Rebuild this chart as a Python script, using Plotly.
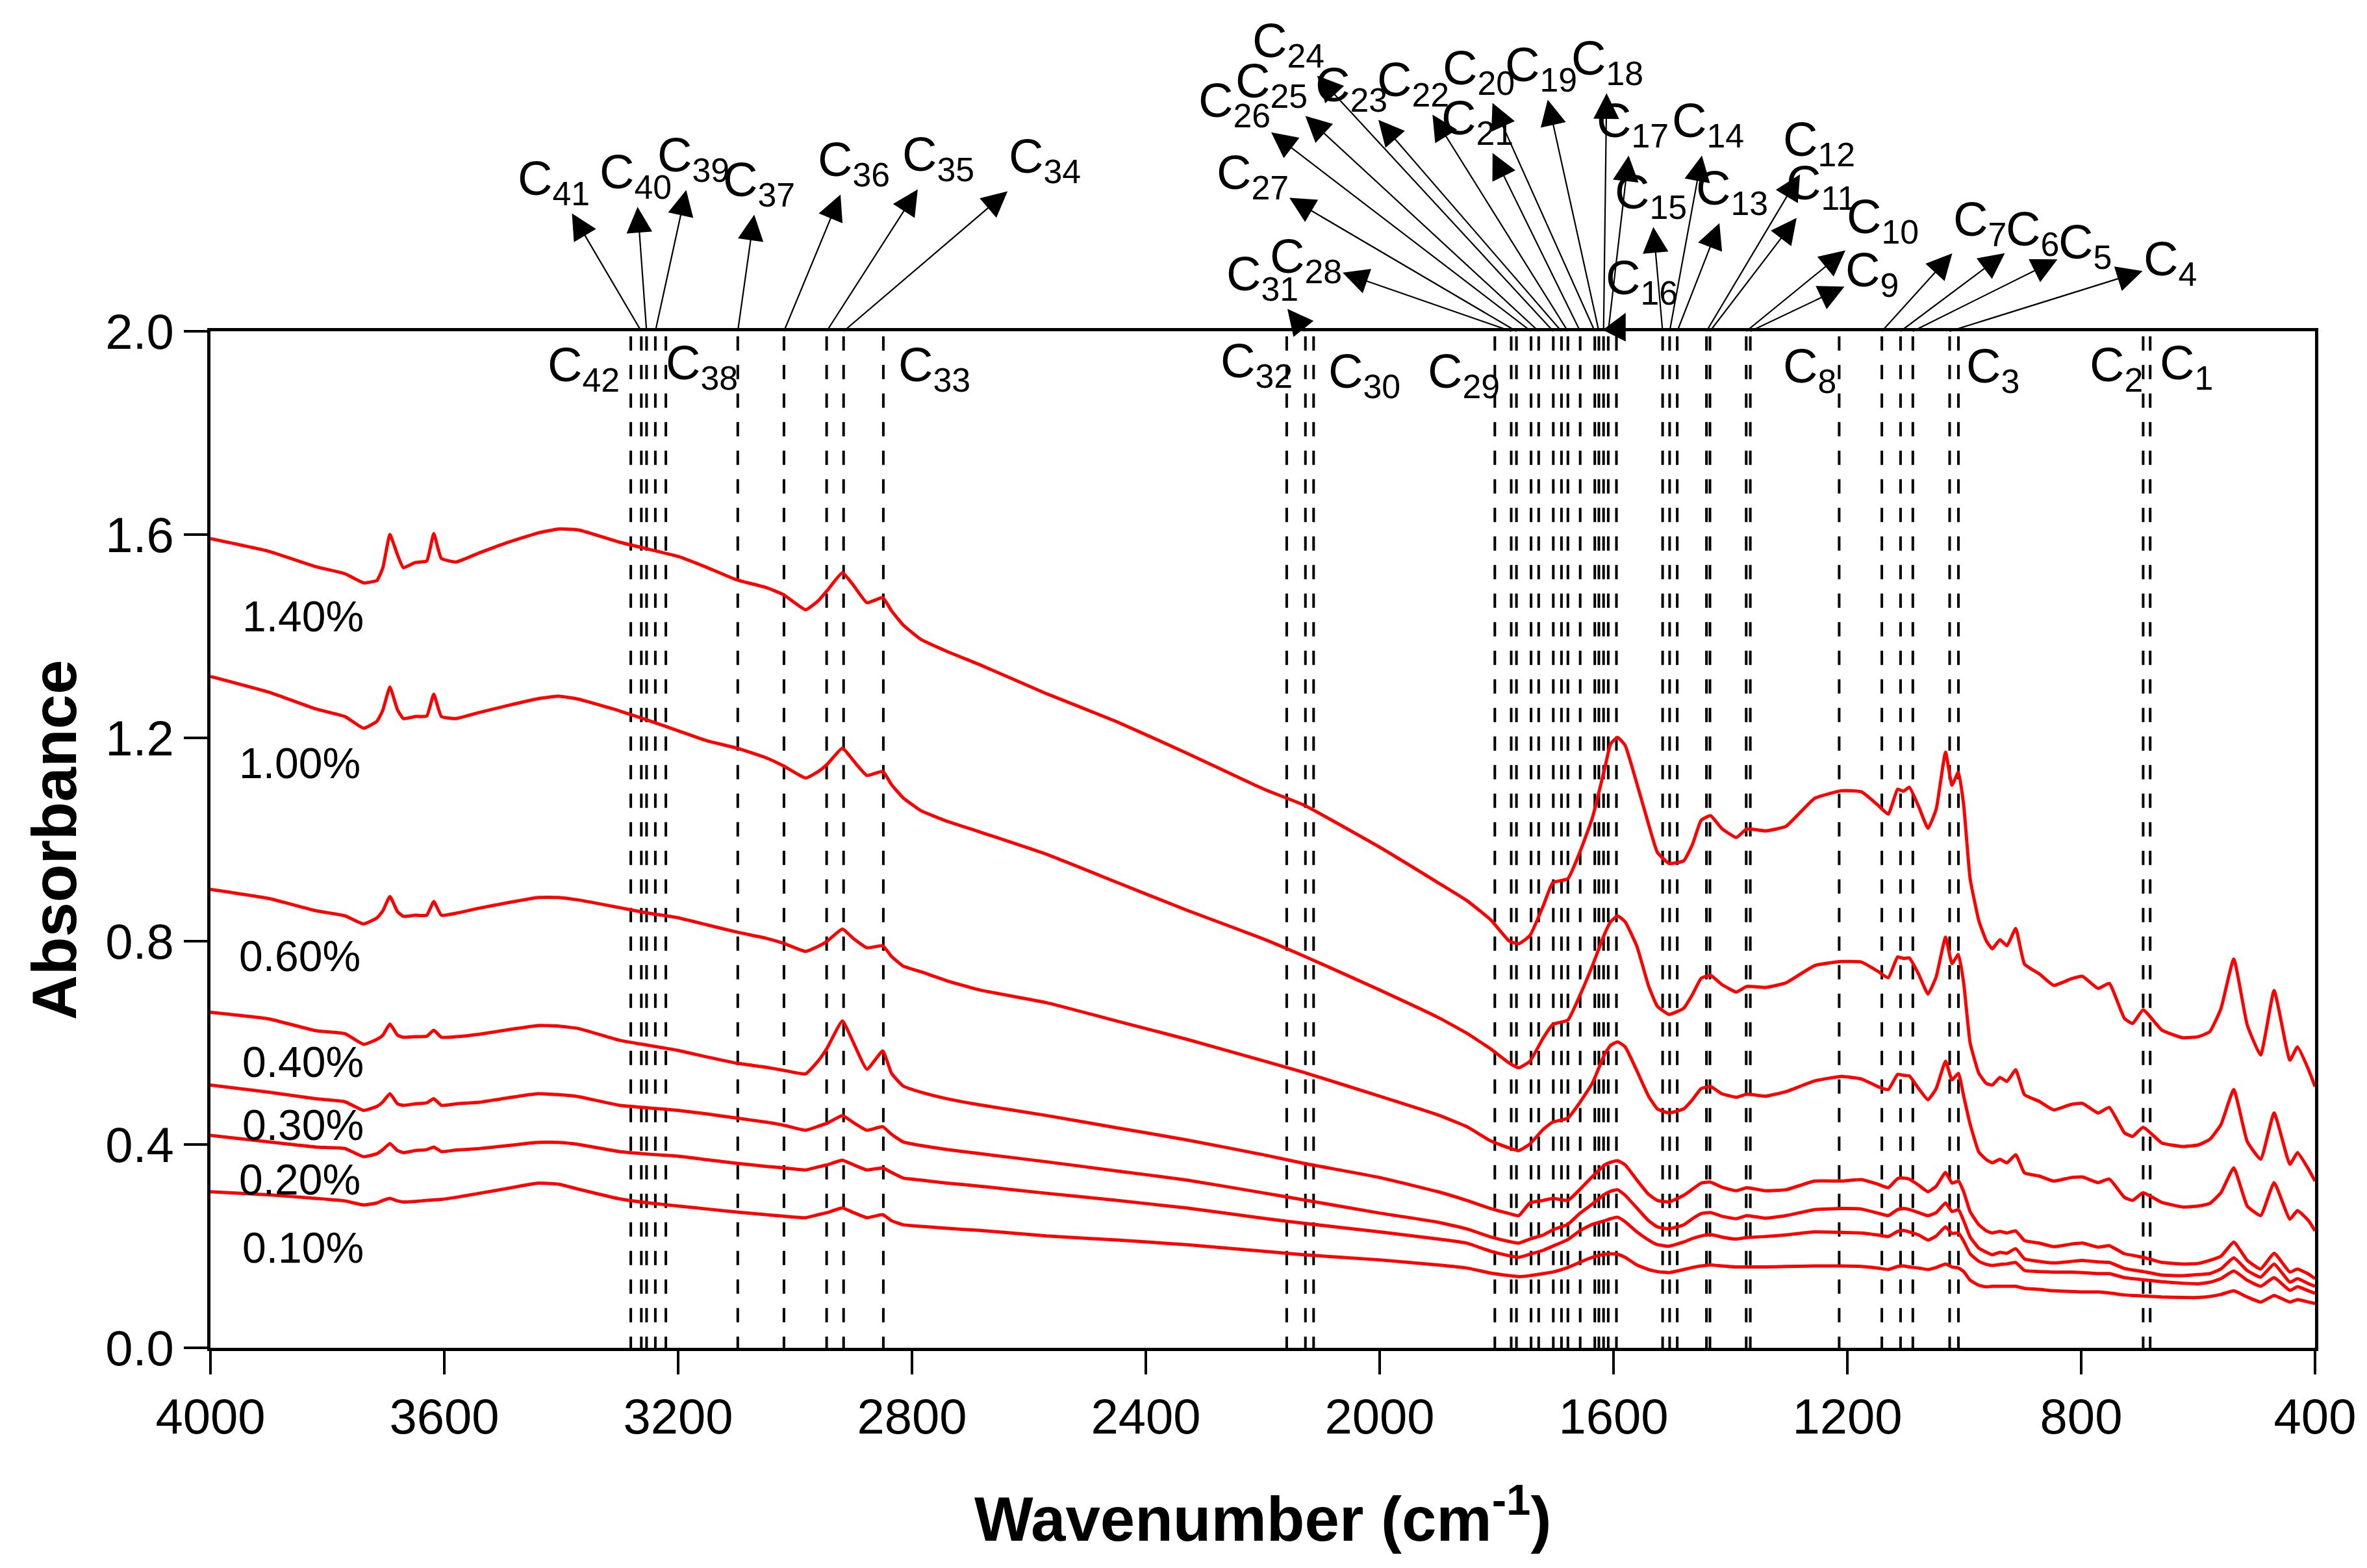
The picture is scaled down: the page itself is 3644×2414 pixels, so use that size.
import plotly.graph_objects as go

# ---------------- data ----------------
wavenumber = [4000, 3900, 3820, 3770, 3738, 3715, 3705, 3693, 3680, 3670, 3650, 3630, 3618, 3605, 3580,
              3540, 3490, 3440, 3405, 3370, 3300, 3250, 3200, 3150, 3100, 3050, 3020, 2982, 2960, 2945,
              2919, 2900, 2877, 2850, 2835, 2815, 2785, 2740, 2684, 2570, 2450, 2330, 2200, 2130, 2000,
              1900, 1851, 1810, 1778, 1762, 1743, 1720, 1704, 1678, 1658, 1636, 1615, 1605, 1593, 1580,
              1560, 1540, 1525, 1505, 1480, 1465, 1450, 1434, 1415, 1390, 1372, 1340, 1305, 1256, 1210,
              1176, 1148, 1130, 1114, 1104, 1094, 1078, 1062, 1048, 1032, 1021, 1010, 1001, 990, 975,
              962, 952, 939, 927, 912, 897, 872, 847, 817, 798, 771, 752, 726, 712, 694,
              662, 626, 600, 580, 561, 539, 516, 493, 470, 443, 430, 411, 400]

abs_140 = [1.592, 1.567, 1.537, 1.523, 1.505, 1.510, 1.535, 1.600, 1.560, 1.535, 1.545, 1.548, 1.602, 1.553, 1.546,
           1.564, 1.585, 1.603, 1.611, 1.609, 1.585, 1.571, 1.557, 1.535, 1.511, 1.496, 1.482, 1.452, 1.470, 1.490,
           1.525, 1.500, 1.466, 1.476, 1.450, 1.422, 1.394, 1.370, 1.344, 1.287, 1.232, 1.170, 1.100, 1.068, 0.985,
           0.915, 0.880, 0.842, 0.800, 0.795, 0.811, 0.870, 0.915, 0.923, 0.974, 1.043, 1.140, 1.188, 1.201, 1.185,
           1.110, 1.030, 0.975, 0.953, 0.958, 0.990, 1.038, 1.047, 1.022, 1.004, 1.021, 1.017, 1.026, 1.081, 1.096,
           1.094, 1.068, 1.050, 1.099, 1.095, 1.103, 1.065, 1.022, 1.060, 1.172, 1.107, 1.133, 1.068, 0.923, 0.840,
           0.800, 0.785, 0.803, 0.791, 0.825, 0.755, 0.736, 0.713, 0.726, 0.731, 0.707, 0.717, 0.648, 0.638, 0.665,
           0.625, 0.610, 0.612, 0.622, 0.667, 0.765, 0.635, 0.576, 0.703, 0.566, 0.592, 0.547, 0.514]

abs_100 = [1.321, 1.290, 1.257, 1.242, 1.219, 1.233, 1.255, 1.300, 1.255, 1.238, 1.242, 1.243, 1.286, 1.242, 1.238,
           1.250, 1.264, 1.277, 1.282, 1.276, 1.253, 1.234, 1.214, 1.194, 1.180, 1.161, 1.145, 1.121, 1.134, 1.148,
           1.180, 1.155, 1.126, 1.134, 1.108, 1.082, 1.057, 1.036, 1.015, 0.971, 0.916, 0.861, 0.805, 0.771, 0.704,
           0.650, 0.619, 0.588, 0.560, 0.551, 0.564, 0.610, 0.636, 0.645, 0.692, 0.752, 0.815, 0.838, 0.850, 0.838,
           0.790, 0.712, 0.672, 0.656, 0.668, 0.695, 0.727, 0.733, 0.715, 0.700, 0.711, 0.709, 0.718, 0.752, 0.760,
           0.759, 0.741, 0.728, 0.769, 0.766, 0.767, 0.735, 0.696, 0.730, 0.808, 0.756, 0.774, 0.718, 0.600, 0.540,
           0.520, 0.517, 0.532, 0.524, 0.547, 0.498, 0.485, 0.468, 0.479, 0.481, 0.462, 0.473, 0.423, 0.416, 0.434,
           0.403, 0.396, 0.399, 0.410, 0.439, 0.508, 0.406, 0.371, 0.462, 0.361, 0.384, 0.351, 0.328]

abs_060 = [0.902, 0.884, 0.860, 0.850, 0.834, 0.846, 0.860, 0.888, 0.858, 0.849, 0.851, 0.851, 0.878, 0.851, 0.855,
           0.865, 0.876, 0.886, 0.886, 0.881, 0.866, 0.855, 0.846, 0.832, 0.818, 0.806, 0.796, 0.780, 0.790, 0.800,
           0.824, 0.805, 0.787, 0.791, 0.770, 0.751, 0.740, 0.722, 0.704, 0.679, 0.643, 0.607, 0.565, 0.542, 0.495,
           0.458, 0.435, 0.407, 0.393, 0.388, 0.401, 0.430, 0.444, 0.452, 0.482, 0.521, 0.578, 0.595, 0.602, 0.592,
           0.545, 0.495, 0.470, 0.462, 0.470, 0.488, 0.510, 0.514, 0.500, 0.493, 0.499, 0.495, 0.504, 0.525, 0.534,
           0.529, 0.514, 0.508, 0.538, 0.536, 0.535, 0.510, 0.488, 0.510, 0.564, 0.527, 0.540, 0.495, 0.440, 0.385,
           0.370, 0.364, 0.371, 0.364, 0.380, 0.344, 0.338, 0.328, 0.335, 0.336, 0.325, 0.332, 0.296, 0.290, 0.305,
           0.286, 0.277, 0.279, 0.284, 0.305, 0.354, 0.279, 0.260, 0.325, 0.253, 0.270, 0.250, 0.230]

abs_040 = [0.660, 0.647, 0.624, 0.618, 0.597, 0.607, 0.615, 0.637, 0.615, 0.611, 0.612, 0.613, 0.625, 0.611, 0.612,
           0.617, 0.626, 0.634, 0.633, 0.628, 0.605, 0.595, 0.585, 0.572, 0.560, 0.552, 0.546, 0.539, 0.565, 0.590,
           0.643, 0.600, 0.548, 0.584, 0.540, 0.515, 0.503, 0.490, 0.478, 0.457, 0.433, 0.409, 0.380, 0.363, 0.335,
           0.307, 0.290, 0.274, 0.264, 0.260, 0.285, 0.290, 0.294, 0.290, 0.311, 0.337, 0.360, 0.365, 0.368, 0.360,
           0.330, 0.302, 0.290, 0.287, 0.300, 0.312, 0.324, 0.326, 0.316, 0.309, 0.315, 0.309, 0.311, 0.328, 0.328,
           0.331, 0.322, 0.315, 0.333, 0.334, 0.332, 0.320, 0.307, 0.318, 0.345, 0.324, 0.328, 0.307, 0.268, 0.242,
           0.230, 0.226, 0.229, 0.226, 0.230, 0.211, 0.206, 0.199, 0.204, 0.206, 0.198, 0.201, 0.185, 0.182, 0.178,
           0.168, 0.165, 0.166, 0.172, 0.180, 0.208, 0.172, 0.155, 0.186, 0.149, 0.155, 0.145, 0.136]

abs_030 = [0.517, 0.503, 0.490, 0.484, 0.467, 0.475, 0.484, 0.500, 0.480, 0.477, 0.480, 0.482, 0.490, 0.477, 0.480,
           0.483, 0.492, 0.500, 0.498, 0.494, 0.477, 0.472, 0.467, 0.460, 0.452, 0.444, 0.438, 0.428, 0.436, 0.442,
           0.457, 0.443, 0.428, 0.435, 0.420, 0.405, 0.398, 0.390, 0.382, 0.366, 0.348, 0.330, 0.305, 0.291, 0.265,
           0.247, 0.234, 0.218, 0.209, 0.206, 0.214, 0.222, 0.232, 0.243, 0.264, 0.283, 0.302, 0.308, 0.311, 0.300,
           0.275, 0.250, 0.238, 0.234, 0.242, 0.254, 0.264, 0.266, 0.259, 0.254, 0.260, 0.255, 0.260, 0.272, 0.274,
           0.273, 0.265, 0.260, 0.272, 0.274, 0.272, 0.266, 0.260, 0.266, 0.285, 0.268, 0.272, 0.250, 0.218, 0.196,
           0.188, 0.183, 0.188, 0.186, 0.195, 0.175, 0.170, 0.167, 0.170, 0.172, 0.169, 0.168, 0.156, 0.153, 0.150,
           0.143, 0.142, 0.144, 0.146, 0.155, 0.177, 0.152, 0.139, 0.165, 0.129, 0.136, 0.126, 0.121]

abs_020 = [0.418, 0.405, 0.395, 0.392, 0.376, 0.382, 0.390, 0.402, 0.388, 0.384, 0.388, 0.390, 0.395, 0.386, 0.389,
           0.392, 0.398, 0.404, 0.404, 0.400, 0.386, 0.381, 0.377, 0.370, 0.363, 0.357, 0.354, 0.350, 0.356, 0.360,
           0.369, 0.360, 0.350, 0.354, 0.345, 0.334, 0.330, 0.324, 0.318, 0.304, 0.290, 0.275, 0.255, 0.245, 0.228,
           0.214, 0.206, 0.190, 0.181, 0.178, 0.184, 0.192, 0.200, 0.213, 0.230, 0.243, 0.250, 0.254, 0.257, 0.248,
           0.228, 0.212, 0.203, 0.200, 0.208, 0.215, 0.220, 0.223, 0.218, 0.214, 0.217, 0.219, 0.222, 0.228, 0.227,
           0.226, 0.222, 0.219, 0.229, 0.231, 0.228, 0.222, 0.212, 0.220, 0.238, 0.225, 0.226, 0.210, 0.185, 0.170,
           0.164, 0.162, 0.164, 0.165, 0.168, 0.152, 0.150, 0.149, 0.149, 0.148, 0.146, 0.146, 0.138, 0.136, 0.134,
           0.130, 0.127, 0.126, 0.129, 0.136, 0.151, 0.133, 0.121, 0.138, 0.113, 0.120, 0.112, 0.107]

abs_010 = [0.307, 0.301, 0.294, 0.289, 0.281, 0.285, 0.290, 0.294, 0.289, 0.287, 0.288, 0.290, 0.291, 0.292, 0.296,
           0.304, 0.314, 0.324, 0.322, 0.312, 0.293, 0.285, 0.279, 0.273, 0.267, 0.262, 0.259, 0.256, 0.262, 0.266,
           0.275, 0.266, 0.256, 0.262, 0.250, 0.242, 0.239, 0.235, 0.231, 0.220, 0.212, 0.203, 0.190, 0.183, 0.173,
           0.163, 0.157, 0.147, 0.142, 0.140, 0.142, 0.146, 0.149, 0.158, 0.168, 0.178, 0.184, 0.185, 0.184, 0.178,
           0.163, 0.154, 0.150, 0.148, 0.154, 0.158, 0.161, 0.163, 0.161, 0.159, 0.159, 0.159, 0.160, 0.161, 0.161,
           0.160, 0.157, 0.154, 0.160, 0.161, 0.159, 0.157, 0.154, 0.158, 0.165, 0.159, 0.157, 0.150, 0.133, 0.123,
           0.120, 0.121, 0.121, 0.121, 0.121, 0.117, 0.115, 0.112, 0.111, 0.110, 0.110, 0.108, 0.104, 0.103, 0.102,
           0.100, 0.099, 0.099, 0.101, 0.105, 0.112, 0.100, 0.090, 0.103, 0.090, 0.095, 0.090, 0.087]

series_values = [abs_140, abs_100, abs_060, abs_040, abs_030, abs_020, abs_010]
series_labels = ["1.40%", "1.00%", "0.60%", "0.40%", "0.30%", "0.20%", "0.10%"]

# band positions C1 ... C42 (cm-1)
peak_wn = [682, 694, 1010, 1025, 1088, 1109, 1141, 1214, 1366, 1373,
           1435, 1441, 1491, 1504, 1516, 1595, 1609, 1617, 1625, 1632,
           1657, 1678, 1689, 1703, 1728, 1741, 1766, 1775, 1803, 2113,
           2127, 2159, 2849, 2917, 2946, 3019, 3098, 3221, 3239, 3254,
           3263, 3281]
peak_names = ["C<sub>%d</sub>" % (i + 1) for i in range(len(peak_wn))]

x_ticks = [4000, 3600, 3200, 2800, 2400, 2000, 1600, 1200, 800, 400]
y_ticks = [0.0, 0.4, 0.8, 1.2, 1.6, 2.0]

# ---------------- layout constants (pixels) ----------------
W, H = 3644, 2414
PL, PR, PT, PB = 316, 3556, 502, 2067
XMAX, XMIN = 4000, 400
FONT = "Liberation Sans, Arial, sans-serif"

# label centres in pixels for the band names
label_pos = {
    1: (3358, 556), 2: (3250, 559), 3: (3060, 561), 4: (3333, 396), 5: (3202, 370),
    6: (3121, 350), 7: (3040, 335), 8: (2778, 561), 9: (2874, 413), 10: (2890, 331),
    11: (2795, 279), 12: (2792, 212), 13: (2658, 287), 14: (2621, 183), 15: (2533, 293),
    16: (2519, 425), 17: (2505, 183), 18: (2466, 87), 19: (2364, 97), 20: (2268, 102),
    21: (2266, 179), 22: (2167, 120), 23: (2072, 128), 24: (1975, 60), 25: (1949, 122),
    26: (1892, 152), 27: (1920, 263), 28: (2002, 392), 29: (2245, 569), 30: (2092, 569),
    31: (1935, 419), 32: (1926, 553), 33: (1430, 559), 34: (1600, 238), 35: (1436, 235),
    36: (1306, 243), 37: (1160, 274), 38: (1072, 556), 39: (1059, 236), 40: (970, 262),
    41: (844, 272), 42: (890, 559),
}
no_arrow = {1, 2, 3, 8, 29, 30, 32, 33, 38, 42}

series_label_pos = [(458, 941), (453, 1167), (453, 1464), (458, 1627), (458, 1724), (453, 1808), (458, 1913)]


def px_of_wn(wn):
    return PL + (XMAX - wn) * (PR - PL) / (XMAX - XMIN)


def paper_x(px):
    return (px - PL) / (PR - PL)


def paper_y(py):
    return (PB - py) / (PB - PT)


fig = go.Figure()
for vals, name in zip(series_values, series_labels):
    fig.add_trace(go.Scatter(x=wavenumber, y=vals, mode="lines", name=name,
                             line=dict(color="#ff0000", width=5, shape="spline", smoothing=0.4),
                             showlegend=False, hoverinfo="skip"))

shapes = []
for wn in peak_wn:
    shapes.append(dict(type="line", xref="x", yref="paper", x0=wn, x1=wn, y0=0.995, y1=0,
                       line=dict(color="black", width=4, dash="22px,22px"), layer="below"))

annotations = []
for i, (wn, txt) in enumerate(zip(peak_wn, peak_names)):
    n = i + 1
    cx, cy = label_pos[n]
    if n in no_arrow:
        annotations.append(dict(xref="paper", yref="paper", x=paper_x(cx), y=paper_y(cy),
                                text=txt, showarrow=False, xanchor="center", yanchor="middle",
                                font=dict(family=FONT, size=74, color="black")))
    else:
        annotations.append(dict(xref="x", yref="paper", x=wn, y=1.0,
                                ax=cx - px_of_wn(wn), ay=cy - PT,
                                text=txt, showarrow=True, arrowside="start",
                                startarrowhead=2, startarrowsize=3.6, arrowwidth=2.2,
                                arrowcolor="black", standoff=0, startstandoff=0,
                                font=dict(family=FONT, size=74, color="black")))

for (cx, cy), txt in zip(series_label_pos, series_labels):
    annotations.append(dict(xref="paper", yref="paper", x=paper_x(cx), y=paper_y(cy), text=txt,
                            showarrow=False, xanchor="center", yanchor="middle",
                            font=dict(family=FONT, size=66, color="black")))

annotations.append(dict(xref="paper", yref="paper", x=paper_x(75), y=0.5, text="<b>Absorbance</b>",
                        textangle=-90, showarrow=False, xanchor="center", yanchor="middle",
                        font=dict(family=FONT, size=96, color="black")))
annotations.append(dict(xref="paper", yref="paper", x=0.5, y=paper_y(2323),
                        text="<b>Wavenumber (cm<sup>-1</sup>)</b>",
                        showarrow=False, xanchor="center", yanchor="middle",
                        font=dict(family=FONT, size=96, color="black")))

fig.update_layout(
    width=W, height=H,
    margin=dict(l=PL, r=W - PR, t=PT, b=H - PB, pad=0),
    paper_bgcolor="white", plot_bgcolor="white",
    font=dict(family=FONT, color="black"),
    shapes=shapes, annotations=annotations,
    xaxis=dict(range=[XMAX, XMIN], tickvals=x_ticks, ticktext=[str(v) for v in x_ticks],
               ticks="outside", ticklen=36, tickwidth=3.5, tickcolor="black",
               showline=True, linewidth=5, linecolor="black", mirror=True,
               showgrid=False, zeroline=False, tickfont=dict(family=FONT, size=76)),
    yaxis=dict(range=[0, 2.0], tickvals=y_ticks, ticktext=["%.1f" % v for v in y_ticks],
               ticks="outside", ticklen=36, tickwidth=3.5, tickcolor="black",
               showline=True, linewidth=5, linecolor="black", mirror=True,
               showgrid=False, zeroline=False, tickfont=dict(family=FONT, size=76)),
)

fig.write_html("out.html")
